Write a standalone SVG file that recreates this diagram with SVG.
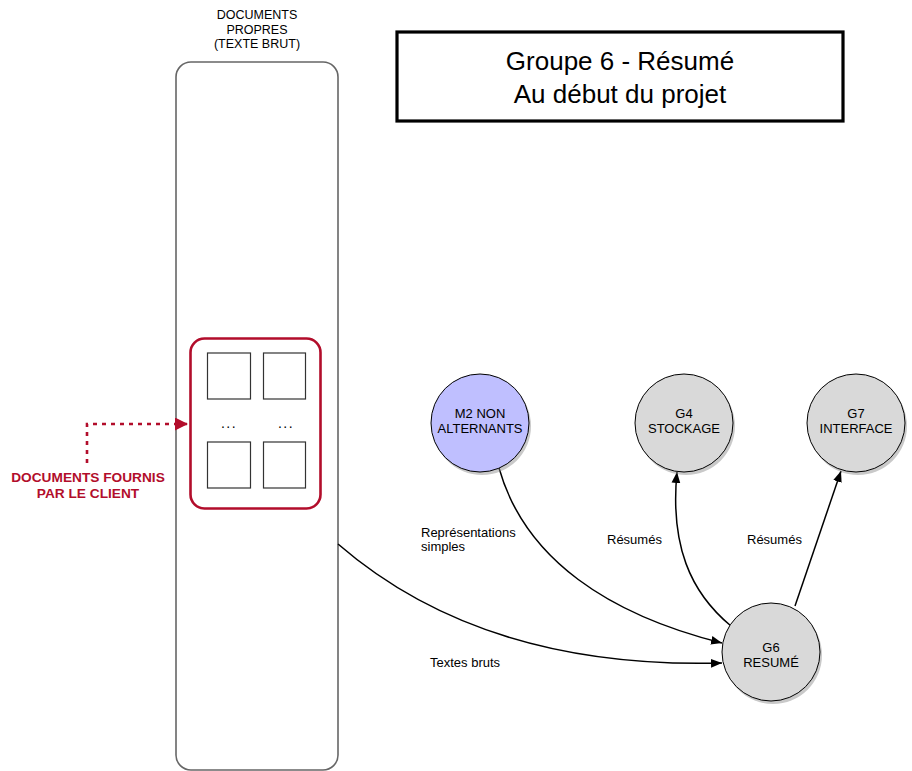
<svg xmlns="http://www.w3.org/2000/svg" width="912" height="771" viewBox="0 0 912 771">
<defs>
<style>
text{font-family:"Liberation Sans",Arial,sans-serif;fill:#000}
.lbl{font-size:13px}
.nl{font-size:13px;text-anchor:middle}
.red{fill:#B20D2B;font-weight:bold;font-size:13.7px;text-anchor:middle}
.edge{fill:none;stroke:#000;stroke-width:1.5}
.node{stroke:#000;stroke-width:1}
.shadow{fill:#888;opacity:0.45}
.doc{fill:#fff;stroke:#333;stroke-width:1.2}
</style>
<marker id="ah" viewBox="0 0 10 10" refX="10" refY="5" markerWidth="11" markerHeight="11" markerUnits="userSpaceOnUse" orient="auto">
<path d="M0,1 L10,5 L0,9 Z" fill="#000"/>
</marker>
<marker id="rah" viewBox="0 0 10 10" refX="10" refY="5" markerWidth="15" markerHeight="13" markerUnits="userSpaceOnUse" orient="auto">
<path d="M0,0 L10,5 L0,10 Z" fill="#B20D2B"/>
</marker>
</defs>
<rect width="912" height="771" fill="#fff"/>

<g id="title">
<rect x="397" y="32" width="446" height="89" fill="#fff" stroke="#000" stroke-width="3.2"/>
<text x="620" y="70" style="font-size:26px;text-anchor:middle">Groupe 6 - Résumé</text>
<text x="620" y="103" style="font-size:26px;text-anchor:middle">Au début du projet</text>
</g>

<g id="documents-propres">
<text x="257" y="19" style="font-size:12.5px;text-anchor:middle">DOCUMENTS</text>
<text x="257" y="33.5" style="font-size:12.5px;text-anchor:middle">PROPRES</text>
<text x="257" y="48" style="font-size:12.5px;text-anchor:middle">(TEXTE BRUT)</text>
<rect x="176" y="62" width="162" height="708" rx="15" fill="#fff" stroke="#666" stroke-width="1.6"/>
</g>

<g id="documents-fournis">
<rect x="190.5" y="338.5" width="130" height="170" rx="14" fill="#fff" stroke="#B20D2B" stroke-width="2.6"/>
<rect class="doc" x="207.5" y="353" width="43" height="46"/>
<rect class="doc" x="263.5" y="353" width="42" height="46"/>
<rect class="doc" x="207.5" y="442" width="43" height="46"/>
<rect class="doc" x="263.5" y="442" width="42" height="46"/>
<text x="229" y="428" style="font-size:14px;text-anchor:middle;letter-spacing:1.5px">...</text>
<text x="286" y="428" style="font-size:14px;text-anchor:middle;letter-spacing:1.5px">...</text>
</g>

<g id="client-label">
<text class="red" x="88" y="482">DOCUMENTS FOURNIS</text>
<text class="red" x="88" y="498">PAR LE CLIENT</text>
</g>

<g id="connectors">
<path d="M87,463 L87,424 L188,424" fill="none" stroke="#B20D2B" stroke-width="2.6" stroke-dasharray="4,5" marker-end="url(#rah)"/>
<path class="edge" d="M338,544 C420,615 540,668 722,663" marker-end="url(#ah)"/>
<path class="edge" d="M499,468 C525,560 610,615 722,643" marker-end="url(#ah)"/>
<path class="edge" d="M731,626 C690,592 670,545 677,472" marker-end="url(#ah)"/>
<path class="edge" d="M795,606 L841,471" marker-end="url(#ah)"/>
<text class="lbl" x="421" y="537">Représentations</text>
<text class="lbl" x="421" y="551">simples</text>
<text class="lbl" x="607" y="544">Résumés</text>
<text class="lbl" x="747" y="544">Résumés</text>
<text class="lbl" x="430" y="667">Textes bruts</text>
</g>

<g id="node-m2">
<circle class="shadow" cx="482" cy="426" r="49"/>
<circle class="node" cx="480" cy="423" r="49" fill="#BFBFFF"/>
<text class="nl" x="480" y="418">M2 NON</text>
<text class="nl" x="480" y="433">ALTERNANTS</text>
</g>

<g id="node-g4">
<circle class="shadow" cx="686" cy="426" r="49"/>
<circle class="node" cx="684" cy="423" r="49" fill="#D9D9D9"/>
<text class="nl" x="684" y="418">G4</text>
<text class="nl" x="684" y="433">STOCKAGE</text>
</g>

<g id="node-g7">
<circle class="shadow" cx="858" cy="426" r="49"/>
<circle class="node" cx="856" cy="423" r="49" fill="#D9D9D9"/>
<text class="nl" x="856" y="418">G7</text>
<text class="nl" x="856" y="433">INTERFACE</text>
</g>

<g id="node-g6">
<circle class="shadow" cx="773" cy="655" r="49"/>
<circle class="node" cx="771" cy="652" r="49" fill="#D9D9D9"/>
<text class="nl" x="771" y="652">G6</text>
<text class="nl" x="771" y="667">RESUMÉ</text>
</g>
</svg>
